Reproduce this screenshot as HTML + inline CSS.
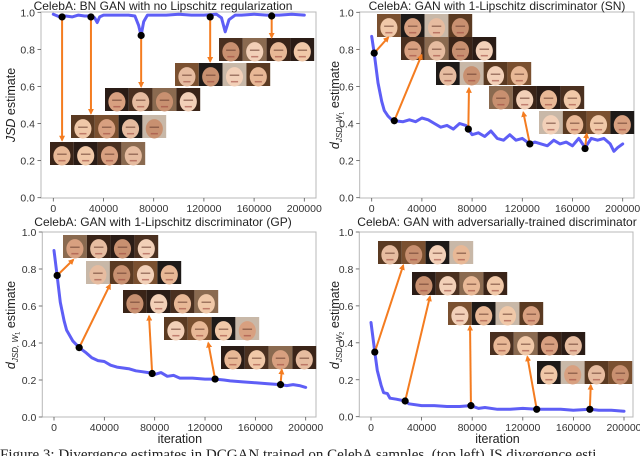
<!DOCTYPE html>
<html><head><meta charset="utf-8"><style>
html,body{margin:0;padding:0;background:#fff;}
svg{display:block;font-family:"Liberation Sans",sans-serif;}
</style></head><body>
<svg id="fig" width="640" height="456" viewBox="0 0 640 456" xmlns="http://www.w3.org/2000/svg">
<defs>
<marker id="ah" markerWidth="6" markerHeight="6" refX="4.5" refY="3" orient="auto" markerUnits="userSpaceOnUse" viewBox="0 0 6 6"><path d="M0,0 L6,3 L0,6 z" fill="#f47c20"/></marker>
</defs>
<text x="0" y="459" font-family="Liberation Serif, serif" font-size="15" fill="#222">Figure 3: Divergence estimates in DCGAN trained on CelebA samples. (top left) JS divergence esti</text>
</svg>
<script>
// ---- data ----
const xTicks = [0,40000,80000,120000,160000,200000];
const yTicks = [0.0,0.2,0.4,0.6,0.8,1.0];
const titles = ["CelebA: BN GAN with no Lipschitz regularization","CelebA: GAN with 1-Lipschitz discriminator (SN)","CelebA: GAN with 1-Lipschitz discriminator (GP)","CelebA: GAN with adversarially-trained discriminator"];
const iters1 = [0,5000,10000,15000,20000,25000,30000,33000,35000,37000,40000,50000,60000,65000,68000,70000,72000,75000,90000,100000,110000,120000,130000,134000,137000,140000,145000,150000,160000,170000,180000,190000,200000];
const vals1 = [0.99,0.975,0.98,0.975,0.985,0.98,0.98,0.97,0.945,0.975,0.985,0.985,0.985,0.98,0.93,0.875,0.95,0.985,0.985,0.99,0.985,0.985,0.99,0.97,0.895,0.96,0.985,0.985,0.99,0.985,0.985,0.99,0.985];
const iters2 = [0,2000,5000,8000,10000,13000,16000,18000,25000,30000,35000,40000,45000,50000,55000,60000,65000,70000,75000,77000,80000,85000,90000,95000,100000,105000,110000,115000,120000,126000,130000,135000,140000,145000,150000,155000,160000,165000,170000,175000,180000,185000,190000,193000,196000,200000];
const vals2 = [0.87,0.78,0.62,0.52,0.47,0.44,0.42,0.415,0.41,0.42,0.41,0.43,0.42,0.40,0.38,0.39,0.37,0.40,0.39,0.37,0.34,0.35,0.33,0.36,0.32,0.31,0.34,0.31,0.32,0.29,0.30,0.29,0.28,0.31,0.29,0.30,0.28,0.32,0.27,0.32,0.31,0.32,0.29,0.25,0.27,0.29];
const iters3 = [0,2500,5000,8000,10000,15000,20000,25000,30000,35000,40000,45000,50000,55000,60000,65000,70000,75000,78000,80000,85000,90000,95000,100000,110000,120000,128000,135000,140000,150000,160000,170000,180000,185000,190000,195000,200000];
const vals3 = [0.9,0.765,0.62,0.52,0.47,0.41,0.375,0.35,0.32,0.305,0.30,0.28,0.27,0.265,0.26,0.25,0.245,0.24,0.235,0.23,0.24,0.22,0.225,0.21,0.21,0.205,0.205,0.20,0.195,0.19,0.185,0.18,0.175,0.17,0.175,0.17,0.16];
const iters4 = [0,3000,5000,8000,10000,13000,15000,20000,27000,30000,40000,50000,60000,70000,79000,85000,90000,100000,110000,120000,131000,140000,150000,160000,173000,180000,190000,200000];
const vals4 = [0.51,0.35,0.25,0.17,0.13,0.125,0.10,0.095,0.085,0.07,0.06,0.06,0.055,0.055,0.06,0.045,0.05,0.04,0.04,0.045,0.04,0.04,0.04,0.035,0.04,0.035,0.035,0.03];
const markX1 = [7000,30000,70000,125000,174000];
const markY1 = [0.975,0.975,0.875,0.975,0.98];
const tipX1 = [7000,30000,70000,125000,174000];
const tipY1 = [0.31,0.455,0.6,0.735,0.865];
const markX2 = [2000,18000,77000,126000,170000];
const markY2 = [0.78,0.415,0.37,0.29,0.265];
const tipX2 = [13200,39800,77500,120800,171300];
const tipY2 = [0.865,0.77,0.59,0.46,0.345];
const markX3 = [2500,20000,78000,128000,180000];
const markY3 = [0.765,0.375,0.235,0.205,0.175];
const tipX3 = [15300,44500,75500,122600,181000];
const tipY3 = [0.85,0.715,0.545,0.4,0.255];
const markX4 = [3000,27000,79000,131000,173000];
const markY4 = [0.35,0.085,0.06,0.04,0.04];
const tipX4 = [25500,46600,78300,123600,173700];
const tipY4 = [0.82,0.65,0.49,0.325,0.17];

// ---- layout (pixels) ----
const panels = [
 {box:[41,12,316,198], x0:53.3, x1:304.3, y0:197.7, y1:12.3, title:[163,10], ylab:[15,105], ylabT:'jsd', xlab:false,
  iters:iters1, vals:vals1, mx:markX1, my:markY1, tx:tipX1, ty:tipY1,
  strips:[[50,142],[71,115],[105,88],[175,63],[219,38]]},
 {box:[359.7,12,634,198], x0:371.7, x1:622.7, y0:197.7, y1:12.3, title:[497,10], ylab:[339,105], ylabT:'w1', xlab:false,
  iters:iters2, vals:vals2, mx:markX2, my:markY2, tx:tipX2, ty:tipY2,
  strips:[[377,14],[401,37],[436,62],[489,86],[539,111]]},
 {box:[42.3,232,316,417], x0:54, x1:305.7, y0:417, y1:232, title:[163,226], ylab:[15,325], ylabT:'w1', xlab:true,
  iters:iters3, vals:vals3, mx:markX3, my:markY3, tx:tipX3, ty:tipY3,
  strips:[[63,235],[86,261],[123,290],[164,317],[221,346]]},
 {box:[359.3,232,633,417], x0:371, x1:624, y0:416.7, y1:232, title:[497,226], ylab:[339,325], ylabT:'w2', xlab:true,
  iters:iters4, vals:vals4, mx:markX4, my:markY4, tx:tipX4, ty:tipY4,
  strips:[[378,241],[412,272],[448,302],[490,332],[537,361]]}
];
const NS = "http://www.w3.org/2000/svg";
const svg = document.getElementById('fig');
function mk(tag, attrs, parent){const e=document.createElementNS(NS,tag);for(const k in attrs)e.setAttribute(k,attrs[k]);(parent||svg).appendChild(e);return e;}
const hairs=['#3a2418','#5a3a22','#2a1c16','#7a5030','#4a3020','#1e1a18','#8a6a50','#c8b8a8'];
const skins=['#e8b896','#f0c8a8','#d8a080','#e6bca0','#c89070','#f2d0b8'];

panels.forEach((p,pi)=>{
  const g = mk('g',{});
  
  
  const X = v => p.x0 + (v/200000)*(p.x1-p.x0);
  const Y = v => p.y0 + v*(p.y1-p.y0);
  const [bx0,by0,bx1,by1]=p.box;
  const frame = mk('rect',{x:bx0,y:by0,width:bx1-bx0,height:by1-by0,fill:'#fff',stroke:'#b8b8b8','stroke-width':1},g);
  
  
  const t = mk('text',{x:p.title[0],y:p.title[1],'text-anchor':'middle','font-size':12,fill:'#222'},g);
  t.textContent = titles[pi];
  
  
  xTicks.forEach(v=>{
    mk('line',{x1:X(v),x2:X(v),y1:by1,y2:by1+3.5,stroke:'#555','stroke-width':0.8},g);
    const tl = mk('text',{x:X(v),y:by1+14,'text-anchor':'middle','font-size':10.5,fill:'#333'},g);
    tl.textContent = v;
    
    
  });
  yTicks.forEach(v=>{
    mk('line',{x1:bx0-3.5,x2:bx0,y1:Y(v),y2:Y(v),stroke:'#555','stroke-width':0.8},g);
    const tl = mk('text',{x:bx0-6,y:Y(v)+4,'text-anchor':'end','font-size':10.5,fill:'#333'},g);
    tl.textContent = v.toFixed(1);
    
    
  });
  const yl = mk('text',{transform:`translate(${p.ylab[0]},${p.ylab[1]}) rotate(-90)`,'text-anchor':'middle','font-size':12.5,fill:'#222'},g);
  
  
  if(p.ylabT==='jsd'){
    yl.innerHTML = '<tspan font-style="italic">JSD</tspan> estimate';
  } else {
    const sub = p.ylabT==='w1'?'1':'2';
    yl.innerHTML = '<tspan font-style="italic">d</tspan><tspan font-size="8" dy="3" font-style="italic">JSD, W</tspan><tspan font-size="6" dy="1.5">'+sub+'</tspan><tspan dy="-4.5"> estimate</tspan>';
  }
  if(p.xlab){
    const xl = mk('text',{x:(p.x0+p.x1)/2,y:by1+26,'text-anchor':'middle','font-size':12.5,fill:'#222'},g);
    xl.textContent='iteration';
    
    
  }
  let d='';
  p.iters.forEach((it,i)=>{d+=(i?'L':'M')+X(it).toFixed(1)+','+Y(p.vals[i]).toFixed(1);});
  const line = mk('path',{d:d,fill:'none',stroke:'#5e5ef6','stroke-width':3,'stroke-linejoin':'round','stroke-linecap':'round'},g);
  
  
  p.strips.forEach((s,si)=>{
    const sg = mk('g',{},g);
    
    
    for(let f=0;f<4;f++){
      const fx=s[0]+f*23.8, fy=s[1], w=23.8, h=23;
      const hc=hairs[(pi*3+si+f*2)%hairs.length], sc=skins[(pi+si+f)%skins.length];
      mk('rect',{x:fx,y:fy,width:w,height:h,fill:hc},sg);
      mk('ellipse',{cx:fx+w/2,cy:fy+h*0.6,rx:w*0.36,ry:h*0.42,fill:sc},sg);
      mk('rect',{x:fx+w*0.3,y:fy+h*0.5,width:w*0.4,height:1.5,fill:'#6a4030',opacity:0.6},sg);
      mk('rect',{x:fx+w*0.35,y:fy+h*0.78,width:w*0.3,height:1.5,fill:'#a04a40',opacity:0.6},sg);
    }
  });
  p.mx.forEach((m,i)=>{
    const a = mk('line',{x1:X(m),y1:Y(p.my[i]),x2:X(p.tx[i]),y2:Y(p.ty[i]),stroke:'#f47c20','stroke-width':2,'marker-end':'url(#ah)'},g);
    
    
  });
  p.mx.forEach((m,i)=>{
    const c = mk('circle',{cx:X(m),cy:Y(p.my[i]),r:3.6,fill:'#000'},g);
    
    
  });
});
</script>
</body></html>
